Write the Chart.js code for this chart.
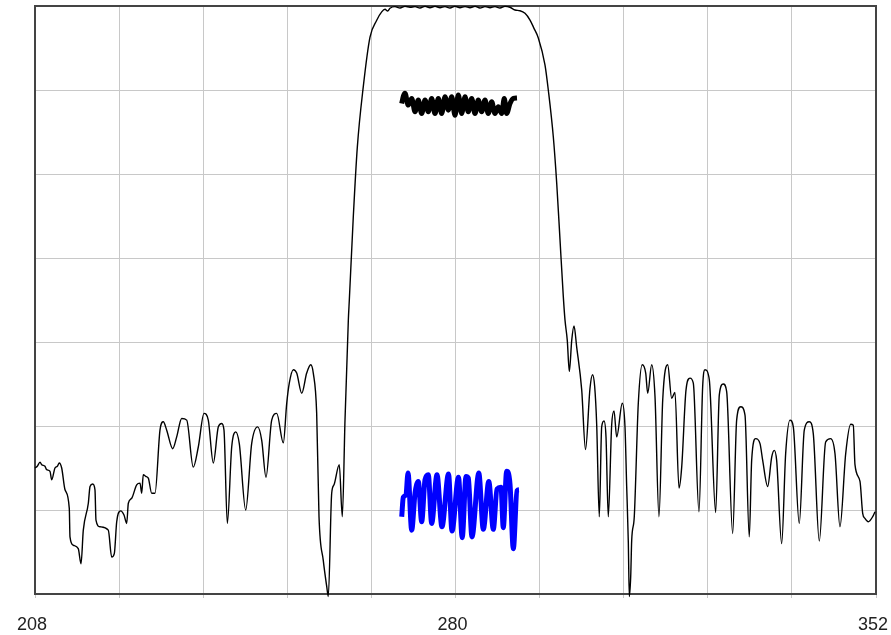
<!DOCTYPE html>
<html>
<head>
<meta charset="utf-8">
<script src="https://cdn.jsdelivr.net/npm/chart.js@4/dist/chart.umd.min.js"></script>
<style>
  html, body { margin: 0; padding: 0; background: #ffffff; }
  #wrap { width: 891px; height: 635px; position: relative; }
</style>
</head>
<body>
<div id="wrap"><canvas id="c"></canvas></div>
<script>
// ---- Data (frequency units on x, level in dB on y) ----
const responseFreq = [
  208.00, 208.39, 208.86, 209.15, 209.71, 210.00, 210.57, 210.86, 211.42, 211.82,
  212.16, 212.57, 213.14, 213.87, 213.99, 214.56, 215.41, 215.88, 216.27, 217.13,
  217.42, 217.88, 218.27, 218.44, 219.13, 220.55, 221.13, 221.58, 221.99, 222.67,
  223.24, 223.70, 223.98, 224.56, 225.41, 225.98, 226.27, 226.54, 226.95, 227.40,
  227.98, 228.55, 229.40, 229.97, 230.55, 231.58, 232.26, 233.12, 233.98, 235.10,
  235.96, 236.94, 237.67, 238.53, 239.39, 239.97, 240.36, 240.93, 241.68, 242.37,
  242.98, 244.08, 245.10, 246.13, 246.82, 247.55, 248.53, 249.39, 250.52, 251.10,
  251.54, 252.23, 252.81, 253.67, 254.52, 255.21, 255.65, 256.23, 256.63, 257.36,
  257.95, 258.22, 258.80, 259.20, 260.10, 260.62, 261.08, 261.65, 261.82, 262.50,
  263.19, 264.21, 265.36, 266.51, 267.36, 267.93, 268.39, 268.78, 269.64, 270.50,
  271.35, 272.21, 273.07, 273.92, 274.78, 275.63, 276.49, 277.35, 278.20, 279.06,
  279.91, 280.77, 281.63, 282.48, 283.34, 284.19, 285.05, 285.91, 286.76, 287.62,
  288.47, 289.33, 290.19, 291.04, 291.90, 292.76, 293.40, 294.18, 295.32, 295.89,
  296.75, 297.33, 297.90, 298.46, 298.75, 299.14, 299.49, 299.90, 300.29, 300.75,
  301.61, 302.26, 303.03, 303.46, 303.83, 304.18, 304.62, 305.03, 305.43, 305.77,
  306.16, 306.74, 307.14, 307.60, 308.56, 309.02, 309.31, 309.59, 309.76, 310.00,
  310.17, 310.61, 311.30, 311.98, 312.57, 312.91, 313.59, 314.16, 314.84, 315.48,
  316.33, 317.02, 317.58, 318.27, 318.73, 319.47, 320.15, 320.72, 321.69, 322.32,
  322.72, 323.46, 324.55, 325.17, 325.85, 326.43, 327.46, 328.14, 328.83, 329.57,
  330.30, 330.71, 331.40, 332.14, 332.60, 333.45, 334.14, 334.58, 334.99, 335.85,
  336.53, 337.27, 337.84, 338.86, 339.72, 340.57, 341.26, 342.29, 343.38, 344.24,
  344.98, 345.83, 346.81, 347.67, 348.11, 348.40, 349.26, 349.72, 350.11, 350.68,
  351.43, 351.83
];
const responseLevel = [
  -55.0, -54.8, -54.3, -54.6, -54.8, -55.2, -55.4, -56.4, -55.0, -54.8,
  -54.4, -55.0, -57.6, -59.8, -63.2, -64.2, -64.6, -66.4, -62.4, -59.2,
  -57.2, -56.9, -57.6, -61.2, -62.0, -62.4, -65.6, -65.2, -61.4, -60.1,
  -60.6, -61.6, -59.2, -58.6, -57.0, -56.8, -58.0, -55.8, -56.0, -56.2,
  -58.0, -58.0, -50.5, -49.5, -50.5, -52.7, -51.3, -49.1, -49.3, -54.9,
  -52.5, -48.5, -49.3, -54.4, -50.1, -49.7, -50.5, -61.6, -52.5, -50.7,
  -52.1, -60.0, -52.1, -50.1, -51.7, -56.1, -49.3, -48.5, -52.0, -47.3,
  -44.9, -43.3, -43.7, -46.1, -43.7, -42.7, -43.7, -48.5, -60.8, -66.0,
  -69.1, -70.3, -58.0, -57.0, -54.6, -60.8, -49.3, -37.4, -35.0, -25.1,
  -16.8, -9.6, -3.7, -1.7, -0.7, -0.39, -0.60, -0.27, -0.08, -0.24,
  -0.04, -0.15, -0.08, -0.24, -0.04, -0.20, -0.04, -0.20, -0.08, -0.24,
  -0.04, -0.20, -0.08, -0.20, -0.04, -0.24, -0.08, -0.20, -0.08, -0.24,
  -0.04, -0.15, -0.48, -0.56, -0.87, -1.67, -2.6, -3.8, -7.0, -10.0,
  -15.6, -21.1, -27.9, -34.6, -37.4, -39.8, -43.5, -39.8, -38.1, -40.6,
  -45.7, -52.8, -45.5, -43.9, -45.3, -49.9, -60.8, -50.1, -49.4, -51.3,
  -60.8, -49.9, -48.2, -51.3, -47.3, -50.1, -57.2, -63.8, -70.3, -67.9,
  -63.6, -60.8, -47.3, -42.7, -43.7, -46.1, -42.7, -46.5, -60.8, -46.9,
  -42.7, -46.7, -46.0, -57.4, -54.9, -45.7, -44.3, -44.9, -60.2, -45.3,
  -43.3, -44.5, -60.3, -46.3, -45.0, -45.9, -62.8, -49.3, -47.7, -48.7,
  -63.2, -54.1, -51.5, -52.1, -54.1, -57.2, -53.7, -52.9, -54.1, -64.0,
  -53.3, -49.3, -50.1, -61.6, -50.5, -49.5, -50.9, -63.7, -51.9, -51.5,
  -53.3, -62.0, -53.3, -49.8, -49.9, -54.6, -56.6, -60.4, -61.0, -61.4,
  -60.8, -60.2
];

const rippleFreq = [
  270.79, 271.09, 271.35, 271.92, 272.50, 273.07, 273.63, 274.21, 274.78, 275.34,
  275.92, 276.49, 277.06, 277.64, 278.20, 278.77, 279.35, 279.91, 280.48, 281.06,
  281.63, 282.19, 282.77, 283.34, 283.90, 284.48, 285.05, 285.61, 286.20, 286.76,
  287.33, 287.91, 288.35, 288.76, 289.33, 289.93, 290.53
];
const rippleLevel = [
  -11.6, -10.7, -10.4, -11.8, -11.0, -12.6, -11.2, -12.8, -11.2, -12.6,
  -11.0, -12.8, -11.0, -12.8, -10.8, -12.4, -10.8, -13.0, -10.6, -12.8,
  -10.8, -12.6, -11.0, -12.8, -11.2, -12.6, -11.2, -12.8, -11.4, -12.8,
  -12.0, -12.8, -11.0, -12.8, -11.6, -11.0, -10.95
];

const blueFreq = [
  270.79, 271.06, 271.52, 271.87, 272.50, 273.07, 273.63, 274.21, 274.78, 275.34,
  275.92, 276.83, 277.68, 278.80, 279.40, 280.51, 281.15, 281.80, 282.19, 282.82,
  283.99, 284.76, 285.70, 286.47, 287.11, 287.79, 288.18, 288.76, 289.33, 289.90,
  290.53, 290.87
];
const blueLevel = [
  -60.8, -58.5, -58.2, -55.6, -62.4, -58.0, -56.6, -61.4, -56.4, -55.8,
  -61.6, -55.8, -62.0, -55.7, -62.5, -56.1, -63.3, -56.0, -56.2, -63.2,
  -55.6, -62.3, -56.6, -62.3, -57.5, -57.3, -62.1, -55.4, -56.9, -64.6,
  -57.7, -57.6
];

const xGridTicks = [208, 222.4, 236.8, 251.2, 265.6, 280, 294.4, 308.8, 323.2, 337.6, 352];
const xTickLabels = [208, 280, 352];
const yMin = -70, yMax = 0, yStep = 10;

function toPoints(xs, ys) { return xs.map((x, i) => ({ x: x, y: ys[i] })); }

const framePlugin = {
  id: 'frame',
  beforeDatasetsDraw(chart) {
    const a = chart.chartArea, ctx = chart.ctx;
    ctx.save();
    ctx.strokeStyle = '#444444';
    ctx.lineWidth = 2;
    ctx.strokeRect(a.left, a.top, a.right - a.left, a.bottom - a.top);
    ctx.restore();
  }
};

new Chart(document.getElementById('c'), {
  type: 'line',
  data: {
    datasets: [
      {
        data: toPoints(responseFreq, responseLevel),
        borderColor: '#000000', borderWidth: 1.4, pointRadius: 0,
        cubicInterpolationMode: 'monotone', fill: false, clip: 6
      },
      {
        data: toPoints(rippleFreq, rippleLevel),
        borderColor: '#000000', borderWidth: 5, pointRadius: 0,
        cubicInterpolationMode: 'monotone', fill: false
      },
      {
        data: toPoints(blueFreq, blueLevel),
        borderColor: '#0000ff', borderWidth: 5, pointRadius: 0,
        cubicInterpolationMode: 'monotone', fill: false
      }
    ]
  },
  options: {
    responsive: true,
    maintainAspectRatio: false,
    animation: false,
    devicePixelRatio: 1,
    layout: { padding: { top: 6, right: 15, left: 0, bottom: 0 } },
    plugins: { legend: { display: false }, tooltip: { enabled: false } },
    scales: {
      x: {
        type: 'linear', min: 208, max: 352,
        afterBuildTicks: (s) => { s.ticks = xGridTicks.map(v => ({ value: v })); },
        afterFit: (s) => { s.height = 41; s.paddingLeft = 0; s.paddingRight = 0; },
        grid: { color: '#c8c8c8', lineWidth: 1, drawTicks: true, tickLength: 4, tickColor: '#c8c8c8' },
        border: { display: false },
        ticks: {
          autoSkip: false, maxRotation: 0, padding: 16, labelOffset: -3,
          color: '#222222',
          font: { family: 'Liberation Sans, Arial, sans-serif', size: 18 },
          callback: (v) => xTickLabels.some(t => Math.abs(t - v) < 1e-6) ? String(v) : ''
        }
      },
      y: {
        type: 'linear', min: yMin, max: yMax,
        afterFit: (s) => { s.width = 35; s.paddingTop = 0; s.paddingBottom = 0; },
        grid: { color: '#c8c8c8', lineWidth: 1, drawTicks: false },
        border: { display: false },
        ticks: { display: false, stepSize: yStep }
      }
    }
  },
  plugins: [framePlugin]
});
</script>
</body>
</html>
